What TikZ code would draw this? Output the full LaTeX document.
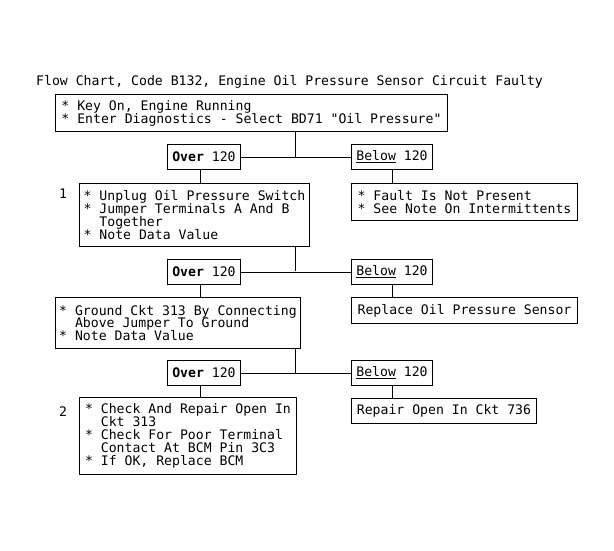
\documentclass[tikz,border=0pt]{standalone}
\usepackage{fontspec}
\setmonofont{DejaVu Sans Mono}
\newcommand{\chartfont}{\ttfamily\fontsize{13.15}{12.9}\selectfont}
\newcommand{\hangon}{\phantom{*}\ }
\tikzset{
  stepbox/.style={draw, line width=1pt, anchor=north west, align=left, inner xsep=1pt, inner ysep=1pt, font=\chartfont},
  testbox/.style={stepbox, minimum width=#1, minimum height=25pt},
}
\begin{document}
\begin{tikzpicture}[x=1pt, y=-1pt]
\useasboundingbox (0,0) rectangle (614,550);

\node[anchor=base west, inner sep=0pt, font=\chartfont] (T) at (36,85) {Flow Chart, Code B132, Engine Oil Pressure Sensor Circuit Faulty};

\node[stepbox, minimum width=392pt, minimum height=37pt] (S0) at (55,94) {* Key On, Engine Running\\* Enter Diagnostics - Select BD71 "Oil Pressure"};

\node[testbox=73pt] (O1) at (167,144) {\textbf{Over} 120};
\node[testbox=81pt] (B1) at (351,144) {\underline{Below} 120};
\coordinate (J1) at (295,157);

\node[anchor=base west, inner sep=0pt, font=\chartfont] (L1) at (59,198) {1};
\node[stepbox, minimum width=230pt, minimum height=63pt] (S1) at (79,183) {* Unplug Oil Pressure Switch\\* Jumper Terminals A And B\\\hangon Together\\* Note Data Value};
\node[stepbox, minimum width=226pt, minimum height=37pt] (F1) at (351,183) {* Fault Is Not Present\\* See Note On Intermittents};

\node[testbox=73pt] (O2) at (167,259) {\textbf{Over} 120};
\node[testbox=81pt] (B2) at (351,259) {\underline{Below} 120};
\coordinate (J2) at (295,271);

\node[stepbox, minimum width=245pt, minimum height=51pt] (S2) at (55,297) {* Ground Ckt 313 By Connecting\\\hangon Above Jumper To Ground\\* Note Data Value};
\node[stepbox, minimum width=226pt, minimum height=26pt] (F2) at (351,297) {Replace Oil Pressure Sensor};

\node[testbox=73pt] (O3) at (167,360) {\textbf{Over} 120};
\node[testbox=81pt] (B3) at (351,360) {\underline{Below} 120};
\coordinate (J3) at (295,373);

\node[anchor=base west, inner sep=0pt, font=\chartfont] (L2) at (59,416) {2};
\node[stepbox, minimum width=217pt, minimum height=77pt] (S3) at (79,397) {* Check And Repair Open In\\\hangon Ckt 313\\* Check For Poor Terminal\\\hangon Contact At BCM Pin 3C3\\* If OK, Replace BCM};
\node[stepbox, minimum width=185pt, minimum height=25pt] (F3) at (351,398) {Repair Open In Ckt 736};

\draw[line width=1pt] (J1 |- S0.south) -- (J1);
\draw[line width=1pt] (O1) -- (B1);
\draw[line width=1pt] ([xshift=-4pt]O1.south) -- ([xshift=-4pt]O1.south |- S1.north);
\draw[line width=1pt] (B1.south) -- (B1.south |- F1.north);

\draw[line width=1pt] (J2 |- S1.south) -- (J2);
\draw[line width=1pt] (O2) -- (B2);
\draw[line width=1pt] ([xshift=-4pt]O2.south) -- ([xshift=-4pt]O2.south |- S2.north);
\draw[line width=1pt] (B2.south) -- (B2.south |- F2.north);

\draw[line width=1pt] (J3 |- S2.south) -- (J3);
\draw[line width=1pt] (O3) -- (B3);
\draw[line width=1pt] ([xshift=-4pt]O3.south) -- ([xshift=-4pt]O3.south |- S3.north);
\draw[line width=1pt] (B3.south) -- (B3.south |- F3.north);

\end{tikzpicture}
\end{document}
